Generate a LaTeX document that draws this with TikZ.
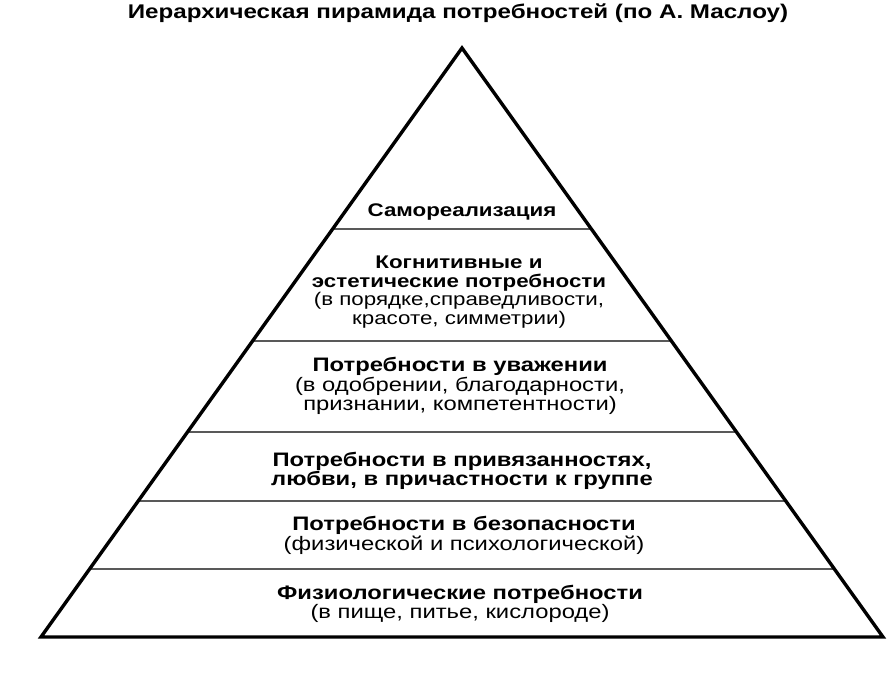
\documentclass[tikz,border=0pt]{standalone}
\usepackage{fontspec}
\setmainfont{Liberation Sans}
\newfontfamily\widesans[FakeStretch=1.22]{Liberation Sans}
\usetikzlibrary{calc}
\begin{document}
\begin{tikzpicture}[x=1pt,y=-1pt,
  levelline/.style={draw=black!65, line width=1.6pt},
  pyr/.style={draw=black, line width=3.4pt, line join=miter},
  lbl/.style={align=center, inner sep=0pt, font=\widesans\fontsize{19.5}{17.5}\selectfont},
  lbls/.style={align=center, inner sep=0pt, font=\widesans\fontsize{18.3}{18.5}\selectfont},
  ttl/.style={inner sep=0pt, anchor=base, font=\widesans\fontsize{19.8}{20}\selectfont\bfseries}]
\useasboundingbox (0,0) rectangle (895,678);
\coordinate (A) at (462,48);
\coordinate (BL) at (41,637);
\coordinate (BR) at (883,637);
\node[ttl] (title) at (458,18) {Иерархическая пирамида потребностей (по А. Маслоу)};
\foreach \y/\n in {229/l1,341/l2,432/l3,501/l4,569/l5}{
  \coordinate (\n L) at ($(A)!{(\y-48)/589}!(BL)$);
  \coordinate (\n R) at ($(A)!{(\y-48)/589}!(BR)$);
  \draw[levelline] (\n L) -- (\n R);
}
\draw[pyr] (A) -- (BL) -- (BR) -- cycle;
\node[lbls] (n1) at (462,212) {\bfseries Самореализация};
\node[lbls] (n2) at (459,292) {\bfseries Когнитивные и\\\bfseries эстетические потребности\\(в порядке,справедливости,\\красоте, симметрии)};
\node[lbl] (n3) at (460,386) {\bfseries Потребности в уважении\\(в одобрении, благодарности,\\признании, компетентности)};
\node[lbl] (n4) at (462,471) {\bfseries Потребности в привязанностях,\\\bfseries любви, в причастности к группе};
\node[lbl] (n5) at (464,535.5) {\bfseries Потребности в безопасности\\(физической и психологической)};
\node[lbl] (n6) at (460,603.5) {\bfseries Физиологические потребности\\(в пище, питье, кислороде)};
\end{tikzpicture}
\end{document}
